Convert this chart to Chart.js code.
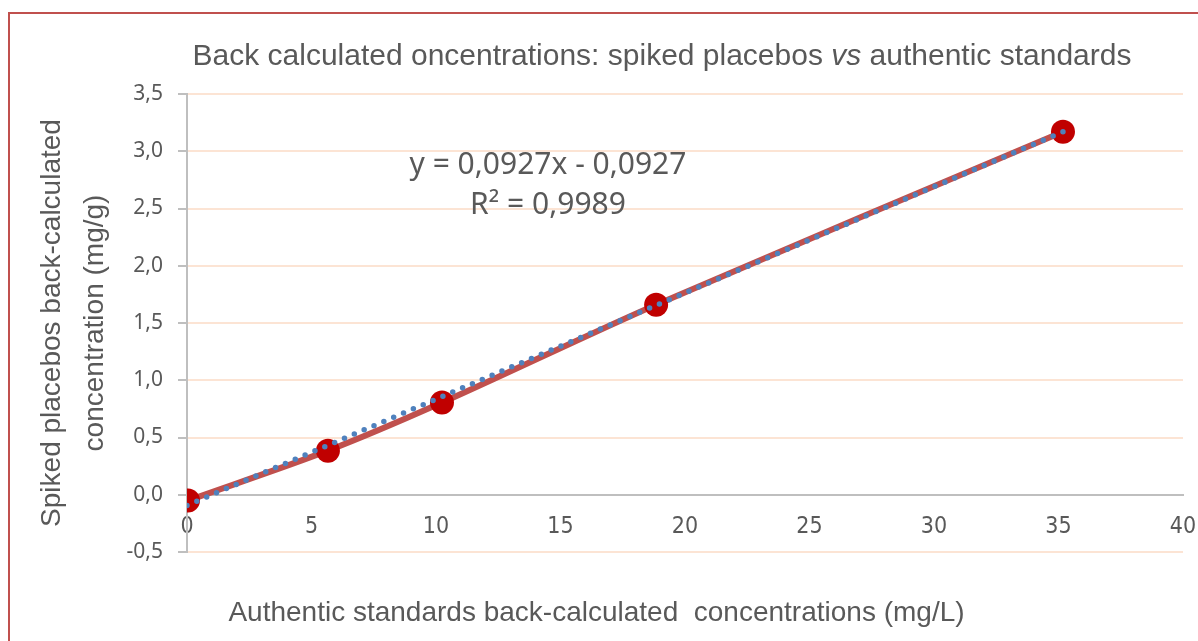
<!DOCTYPE html>
<html>
<head>
<meta charset="utf-8">
<script src="https://cdn.jsdelivr.net/npm/chart.js@4/dist/chart.umd.min.js"></script>
<style>
  html, body { margin: 0; padding: 0; background: #ffffff; overflow: hidden; }
  #wrap { position: relative; width: 1198px; height: 641px; overflow: hidden; }
  #frame {
    position: absolute; left: 8px; top: 12px; width: 1220px; height: 700px;
    border: 2px solid #c0504d; pointer-events: none; box-sizing: border-box;
  }
  #chartTitle {
    position: absolute; left: 0; width: 1324px; top: 37px; text-align: center;
    font-family: "Liberation Sans", Arial, sans-serif;
    font-size: 30px; color: #595959; white-space: nowrap; line-height: 36px;
  }
  #equation {
    position: absolute; left: 348px; width: 400px; top: 143px; text-align: center;
    font-family: "Noto Sans", "Open Sans", sans-serif;
    font-size: 30px; color: #595959; line-height: 40px; white-space: nowrap;
  }
</style>
</head>
<body>
<div id="wrap">
  <canvas id="backCalcChart" width="1198" height="641"></canvas>
  <div id="chartTitle">Back calculated oncentrations: spiked placebos <i>vs</i> authentic standards</div>
  <div id="equation">y = 0,0927x - 0,0927<br>R² = 0,9989</div>
  <div id="frame"></div>
</div>
<script>
// authentic standards (mg/L) vs spiked placebos (mg/g)
const standardValues = [0.04, 5.66, 10.24, 18.84, 35.18];
const placeboValues = [-0.05, 0.385, 0.805, 1.66, 3.17];

// linear trendline endpoints
const trendX = [0, 35.18];
const trendY = [-0.093, 3.17];

const xTickValues = [0, 5, 10, 15, 20, 25, 30, 35, 40];
const yTickValues = [-0.5, 0, 0.5, 1, 1.5, 2, 2.5, 3, 3.5];

const titleFont = '"Liberation Sans", Arial, sans-serif';
const narrowFont = '"Liberation Sans Narrow", "Arial Narrow", "DejaVu Sans Condensed", sans-serif';
const bodyFont = '"Noto Sans", "Open Sans", sans-serif';
const textColor = "#595959";
const axisGray = "#bfbfbf";
const gridPeach = "#fce4d4";

function toPoints(xs, ys) {
  return xs.map((x, i) => ({ x, y: ys[i] }));
}

function formatComma(value) {
  return value.toFixed(1).replace(".", ",");
}

document.addEventListener("DOMContentLoaded", () => {
  new Chart(document.getElementById("backCalcChart"), {
    type: "line",
    data: {
      datasets: [
        {
          label: "Back calculated",
          data: toPoints(standardValues, placeboValues),
          borderColor: "#c0504d",
          borderWidth: 6,
          tension: 0.3,
          pointRadius: 12,
          pointBackgroundColor: "#c00000",
          pointBorderWidth: 0,
          order: 1
        },
        {
          label: "Linear trend",
          data: toPoints(trendX, trendY),
          borderColor: "#4f81bd",
          borderWidth: 5.5,
          borderDash: [0, 10.7],
          borderCapStyle: "round",
          pointRadius: 0,
          tension: 0,
          order: 0
        }
      ]
    },
    options: {
      responsive: false,
      animation: false,
      layout: {
        padding: { top: 94, left: 10, right: 15, bottom: 0 }
      },
      plugins: {
        legend: { display: false },
        tooltip: { enabled: false },
        title: { display: false },
        subtitle: {
          display: true,
          position: "bottom",
          text: "Authentic standards back-calculated  concentrations (mg/L)",
          color: textColor,
          font: { family: titleFont, size: 28, weight: "normal", lineHeight: 1.2 },
          padding: { top: 44, bottom: 11.4 }
        }
      },
      scales: {
        x: {
          type: "linear",
          min: 0,
          max: 40,
          position: { y: 0 },
          afterBuildTicks: (scale) => {
            scale.ticks = xTickValues.map((value) => ({ value }));
          },
          afterFit: (scale) => {
            scale.paddingLeft = 0;
            scale.paddingRight = 0;
          },
          grid: { display: false, drawTicks: false },
          border: { display: true, color: axisGray, width: 2 },
          ticks: {
            color: textColor,
            padding: 18,
            maxRotation: 0,
            font: { family: narrowFont, size: 23 },
            callback: (value) => String(value)
          }
        },
        y: {
          type: "linear",
          min: -0.5,
          max: 3.5,
          afterBuildTicks: (scale) => {
            scale.ticks = yTickValues.map((value) => ({ value }));
          },
          afterFit: (scale) => {
            scale.width = 177;
            scale.paddingTop = 0;
            scale.paddingBottom = 0;
          },
          grid: {
            color: (ctx) => (ctx.tick && ctx.tick.value === 0 ? axisGray : gridPeach),
            lineWidth: 2,
            tickColor: axisGray,
            tickLength: 9
          },
          border: { display: true, color: axisGray, width: 2 },
          ticks: {
            color: textColor,
            padding: 15,
            font: { family: bodyFont, size: 21 },
            callback: (value) => formatComma(value)
          },
          title: {
            display: true,
            text: ["Spiked placebos back-calculated", "concentration (mg/g)"],
            color: textColor,
            font: { family: titleFont, size: 28, lineHeight: 1.52 },
            padding: { top: 21, bottom: 0 }
          }
        }
      }
    }
  });
});
</script>
</body>
</html>
